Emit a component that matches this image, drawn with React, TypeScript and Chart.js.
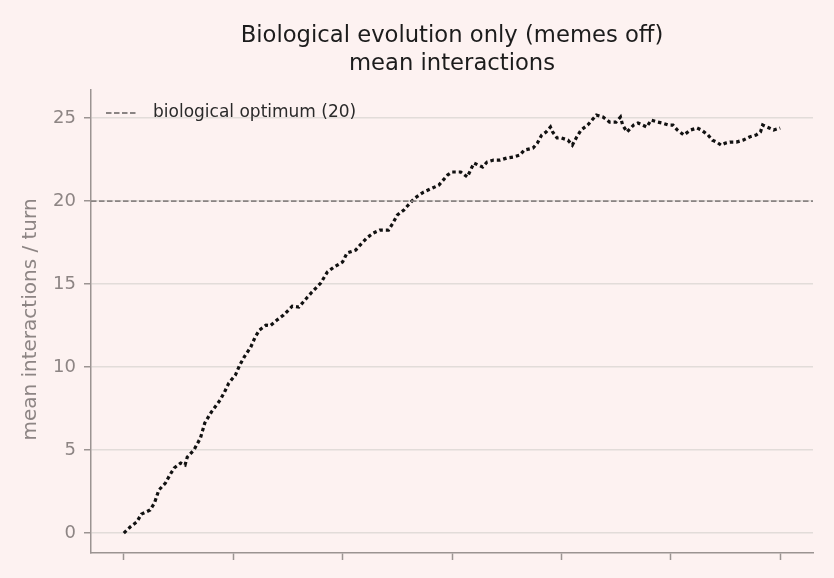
import { useEffect, useRef } from "react";
import { Chart, registerables } from "chart.js";

Chart.register(...registerables);

const generations = [
  0, 3, 6, 8, 12, 14, 16, 19, 21, 23, 26, 28, 29, 32, 35, 37, 40, 44, 46, 48, 51, 53, 55, 58, 60, 62, 65, 67,
  70, 73, 77, 80, 84, 86, 90, 93, 96, 100, 102, 106, 108, 111, 114, 117, 121, 123, 125, 128, 130, 133, 137,
  141, 144, 148, 150, 154, 157, 160, 164, 166, 169, 172, 175, 178, 181, 183, 187, 189, 191, 193, 195, 196,
  198, 200, 203, 205, 207, 209, 212, 214, 216, 219, 222, 225, 227, 228, 230, 233, 235, 237, 239, 241, 244,
  246, 249, 251, 253, 256, 259, 262, 264, 267, 269, 271, 273, 275, 277, 280, 283, 286, 289, 291, 292, 295,
  297, 300,
];
const meanInteractions = [
  0.0, 0.38, 0.68, 1.14, 1.39, 1.81, 2.59, 3.01, 3.49, 3.92, 4.22, 4.1, 4.58, 5.0, 5.72, 6.63, 7.29, 8.01,
  8.49, 9.04, 9.52, 10.12, 10.6, 11.2, 11.8, 12.23, 12.53, 12.5, 12.83, 13.13, 13.67, 13.61, 14.22, 14.52,
  15.06, 15.72, 16.02, 16.33, 16.87, 17.05, 17.35, 17.77, 18.07, 18.25, 18.25, 18.67, 19.16, 19.46, 19.76,
  20.18, 20.54, 20.78, 20.96, 21.57, 21.75, 21.75, 21.45, 22.29, 22.05, 22.35, 22.47, 22.47, 22.59, 22.65,
  22.77, 23.07, 23.19, 23.49, 23.98, 24.16, 24.46, 24.16, 23.8, 23.8, 23.67, 23.37, 23.86, 24.28, 24.58,
  24.88, 25.18, 25.06, 24.76, 24.76, 25.06, 24.58, 24.16, 24.58, 24.7, 24.58, 24.46, 24.88, 24.76, 24.7,
  24.58, 24.58, 24.28, 23.98, 24.28, 24.4, 24.28, 23.98, 23.67, 23.55, 23.37, 23.49, 23.55, 23.55, 23.67,
  23.86, 23.98, 24.16, 24.58, 24.4, 24.28, 24.4,
];
const optimum = 20;
const yTicks = [0, 5, 10, 15, 20, 25];
const xTicks = [0, 50, 100, 150, 200, 250, 300];
const titleLines = ["Biological evolution only (memes off)", "mean interactions"];
const yLabel = "mean interactions / turn";
const legendLabel = "biological optimum (20)";

const FONT = "'DejaVu Sans', sans-serif";
const AXIS_GREY = "#9b9492";
const TEXT_GREY = "#8d8584";
const GRID = "#e2dcd9";
const REF_GREY = "#8a8483";

const overlay = {
  id: "overlay",
  afterDraw(chart: Chart) {
    const { ctx, chartArea } = chart;
    const cx = (chartArea.left + chartArea.right) / 2;
    ctx.save();
    // title
    ctx.fillStyle = "#1c1c1c";
    ctx.font = `22.7px ${FONT}`;
    ctx.textAlign = "center";
    ctx.textBaseline = "alphabetic";
    ctx.fillText(titleLines[0], cx, 42);
    ctx.fillText(titleLines[1], cx, 70);

    // y axis label
    ctx.save();
    ctx.translate(31, (chartArea.top + chartArea.bottom) / 2 - 2);
    ctx.rotate(-Math.PI / 2);
    ctx.fillStyle = TEXT_GREY;
    ctx.font = `20px ${FONT}`;
    ctx.textBaseline = "middle";
    ctx.fillText(yLabel, 0, 0);
    ctx.restore();

    // legend
    const ly = chartArea.top + 23;
    ctx.strokeStyle = REF_GREY;
    ctx.lineWidth = 1.8;
    ctx.setLineDash([5.5, 2.5]);
    ctx.beginPath();
    ctx.moveTo(chartArea.left + 15, ly);
    ctx.lineTo(chartArea.left + 45, ly);
    ctx.stroke();
    ctx.setLineDash([]);
    ctx.fillStyle = "#2a2a2a";
    ctx.font = `17px ${FONT}`;
    ctx.textAlign = "left";
    ctx.textBaseline = "middle";
    ctx.fillText(legendLabel, chartArea.left + 62, ly);
    ctx.restore();
  },
};

export default function App() {
  const canvasRef = useRef<HTMLCanvasElement>(null);
  const chartRef = useRef<Chart | null>(null);

  useEffect(() => {
    if (!canvasRef.current) return;
    chartRef.current?.destroy();
    chartRef.current = new Chart(canvasRef.current, {
      type: "line",
      data: {
        datasets: [
          {
            label: legendLabel,
            data: [
              { x: -15, y: optimum },
              { x: 315, y: optimum },
            ],
            borderColor: REF_GREY,
            borderWidth: 1.8,
            borderDash: [5.5, 2.5],
            pointRadius: 0,
          },
          {
            label: "mean interactions",
            data: generations.map((g, i) => ({ x: g, y: meanInteractions[i] })),
            borderColor: "#111111",
            borderWidth: 3.2,
            borderDash: [3.5, 3],
            pointRadius: 0,
            tension: 0,
          },
        ],
      },
      options: {
        animation: false,
        responsive: true,
        maintainAspectRatio: false,
        layout: { padding: { top: 90, right: 21, left: 0, bottom: 0 } },
        plugins: { legend: { display: false }, title: { display: false }, tooltip: { enabled: false } },
        scales: {
          x: {
            type: "linear",
            min: -15,
            max: 315,
            afterBuildTicks: (scale) => {
              scale.ticks = xTicks.map((value) => ({ value }));
            },
            afterFit: (scale) => {
              scale.height = 25;
            },
            ticks: { display: false },
            grid: { drawOnChartArea: false, tickLength: 7, tickColor: AXIS_GREY, tickWidth: 1.5 },
            border: { color: AXIS_GREY, width: 1.5 },
          },
          y: {
            type: "linear",
            min: -1.2,
            max: 26.69,
            afterBuildTicks: (scale) => {
              scale.ticks = yTicks.map((value) => ({ value }));
            },
            afterFit: (scale) => {
              scale.width = 91;
            },
            ticks: { color: TEXT_GREY, font: { family: FONT, size: 18 }, padding: 8 },
            grid: { color: GRID, lineWidth: 1.5, tickLength: 7, tickColor: AXIS_GREY, tickWidth: 1.5 },
            border: { color: AXIS_GREY, width: 1.5 },
          },
        },
      },
      plugins: [overlay],
    });
    return () => chartRef.current?.destroy();
  }, []);

  return (
    <div style={{ position: "absolute", left: 0, top: 0, width: 834, height: 578, background: "#fdf2f1" }}>
      <canvas ref={canvasRef} />
    </div>
  );
}
